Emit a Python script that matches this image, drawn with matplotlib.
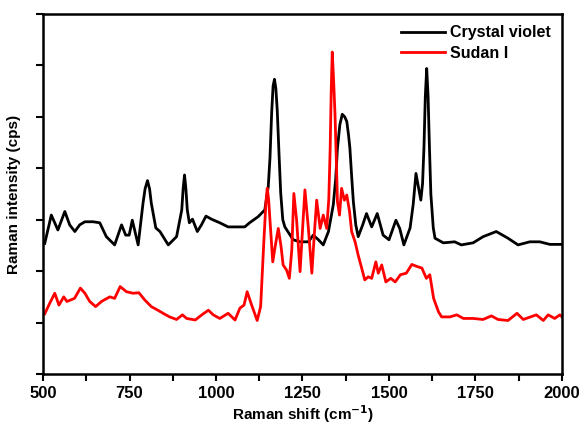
import matplotlib.pyplot as plt
from matplotlib.ticker import MultipleLocator, NullFormatter
import numpy as np

# Raman spectra (intensity in 10^3 cps)
cv_shift = [505, 524, 543, 563, 577, 592, 606, 621, 645, 664, 683, 707, 727, 739, 749,
            758, 775, 789, 795, 802, 808, 813, 826, 838, 862, 886, 901, 905, 909, 913,
            917, 923, 932, 946, 958, 971, 987, 1011, 1035, 1059, 1083, 1097, 1122, 1141,
            1151, 1156, 1161, 1165, 1169, 1173, 1177, 1182, 1187, 1193, 1199, 1223, 1243,
            1267, 1281, 1296, 1310, 1325, 1339, 1346, 1351, 1358, 1365, 1372, 1378, 1383,
            1387, 1392, 1397, 1404, 1411, 1424, 1435, 1450, 1466, 1483, 1500, 1520, 1531,
            1543, 1561, 1570, 1578, 1586, 1592, 1597, 1601, 1605, 1609, 1613, 1617, 1621,
            1628, 1633, 1657, 1690, 1709, 1743, 1772, 1810, 1844, 1873, 1907, 1936, 1965,
            2000]
cv_int = [2.54, 3.09, 2.80, 3.16, 2.90, 2.77, 2.90, 2.96, 2.96, 2.94, 2.67, 2.51, 2.90, 2.70, 2.70,
          2.99, 2.51, 3.32, 3.60, 3.76, 3.60, 3.32, 2.84, 2.77, 2.51, 2.67, 3.19, 3.60, 3.87, 3.60,
          3.19, 2.94, 3.01, 2.77, 2.90, 3.07, 3.01, 2.94, 2.86, 2.86, 2.86, 2.94, 3.06, 3.19,
          3.64, 4.20, 5.10, 5.60, 5.73, 5.55, 5.13, 4.30, 3.52, 3.00, 2.86, 2.61, 2.57,
          2.57, 2.70, 2.61, 2.51, 2.77, 3.29, 3.80, 4.39, 4.85, 5.05, 5.00, 4.91, 4.65,
          4.39, 3.85, 3.35, 2.90, 2.67, 2.90, 3.12, 2.86, 3.12, 2.70, 2.61, 2.99, 2.83,
          2.51, 2.84, 3.30, 3.90, 3.60, 3.38, 3.70, 4.39, 5.40, 5.94, 5.40, 4.39, 3.50,
          2.84, 2.64, 2.55, 2.57, 2.51, 2.55, 2.67, 2.77, 2.64, 2.51, 2.57, 2.57, 2.52,
          2.52]

sd_shift = [505, 519, 534, 546, 560, 569, 591, 608, 621, 635, 652, 669, 693, 707, 723,
            741, 760, 777, 794, 813, 832, 847, 866, 886, 903, 915, 940, 959, 978, 992,
            1011, 1035, 1055, 1069, 1081, 1090, 1103, 1119, 1129, 1138, 1144, 1148, 1152,
            1156, 1164, 1171, 1180, 1188, 1194, 1204, 1212, 1219, 1225, 1233, 1243, 1250,
            1257, 1267, 1277, 1284, 1291, 1301, 1310, 1320, 1326, 1330, 1333, 1336, 1340,
            1344, 1348, 1351, 1357, 1363, 1371, 1378, 1386, 1392, 1402, 1411, 1421, 1430,
            1440, 1450, 1462, 1469, 1479, 1491, 1505, 1518, 1533, 1550, 1566, 1581, 1595,
            1608, 1618, 1629, 1643, 1652, 1676, 1696, 1715, 1743, 1772, 1796, 1815, 1844,
            1870, 1888, 1926, 1946, 1960, 1979, 1994, 2000]
sd_int = [1.17, 1.37, 1.57, 1.34, 1.50, 1.41, 1.47, 1.67, 1.57, 1.41, 1.31, 1.41, 1.50, 1.47, 1.70,
          1.60, 1.57, 1.58, 1.44, 1.31, 1.24, 1.18, 1.11, 1.06, 1.15, 1.08, 1.05, 1.15, 1.24, 1.15,
          1.08, 1.18, 1.05, 1.28, 1.34, 1.60, 1.34, 1.04, 1.31, 2.54, 3.30, 3.61, 3.40,
          2.99, 2.18, 2.48, 2.83, 2.48, 2.12, 2.02, 1.86, 2.41, 3.51, 2.99, 1.99, 2.80,
          3.58, 2.83, 1.96, 2.70, 3.38, 2.83, 3.09, 2.83, 3.40, 4.39, 5.50, 6.26, 5.70,
          5.04, 4.10, 3.35, 3.09, 3.61, 3.38, 3.48, 3.16, 2.77, 2.57, 2.31, 2.06, 1.83,
          1.89, 1.86, 2.18, 1.96, 2.12, 1.79, 1.86, 1.79, 1.93, 1.96, 2.13, 2.09, 2.06,
          1.86, 1.93, 1.47, 1.21, 1.11, 1.11, 1.15, 1.08, 1.08, 1.06, 1.13, 1.06, 1.04,
          1.18, 1.06, 1.15, 1.04, 1.15, 1.08, 1.15, 1.11]

plt.rcParams['font.family'] = 'Liberation Sans'
plt.rcParams['font.weight'] = 'bold'

fig = plt.figure(figsize=(5.79, 4.28), dpi=100)
ax = fig.add_axes([0.0743, 0.1262, 0.8963, 0.8411])

ax.plot(cv_shift, cv_int, color='black', lw=2.0, label='Crystal violet')
ax.plot(sd_shift, sd_int, color='red', lw=2.0, label='Sudan I')

ax.set_xlim(500, 2000)
ax.set_ylim(0, 7)
ax.xaxis.set_major_locator(MultipleLocator(250))
ax.xaxis.set_minor_locator(MultipleLocator(125))
ax.yaxis.set_major_locator(MultipleLocator(1))
ax.yaxis.set_major_formatter(NullFormatter())
ax.tick_params(axis='both', which='both', direction='out', length=5, width=1.5,
               top=False, right=False, labelsize=12)
for s in ax.spines.values():
    s.set_linewidth(1.8)
for lab in ax.get_xticklabels():
    lab.set_fontweight('bold')

ax.set_xlabel('Raman shift (cm$^{\\mathbf{-1}}$)', fontsize=11, fontweight='bold', labelpad=2)
ax.set_ylabel('Raman intensity (cps)', fontsize=11, fontweight='bold', labelpad=7)

ax.legend(loc='upper right', frameon=False, handlelength=2.8, handletextpad=0.3,
          prop={'weight': 'bold', 'size': 11.5}, borderaxespad=0.3, labelspacing=0.35,
          bbox_to_anchor=(1.0, 1.0))

fig.savefig('out.png', dpi=100)
